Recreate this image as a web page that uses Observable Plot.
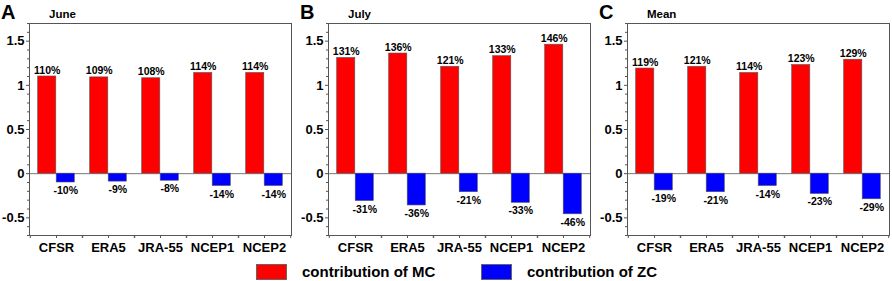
<!DOCTYPE html>
<html>
<head>
<meta charset="utf-8">
<script src="https://cdn.jsdelivr.net/npm/d3@7"></script>
<script src="https://cdn.jsdelivr.net/npm/@observablehq/plot@0.6"></script>
<style>
  body { margin: 0; background: #fff; font-family: "Liberation Sans", Arial, sans-serif; }
  #root { position: relative; width: 892px; height: 281px; overflow: hidden; }
  .panel { position: absolute; top: 0; }
  .letter { position: absolute; top: 1px; font-size: 20px; font-weight: bold; color: #000; }
  .month { position: absolute; top: 8px; font-size: 11.5px; font-weight: bold; color: #000; }
  .legend { position: absolute; top: 263px; display: flex; align-items: center; font-size: 15px; font-weight: bold; }
  .sw { display: inline-block; width: 31px; height: 16px; border: 1px solid #666; box-sizing: border-box; margin-right: 15px; }
</style>
</head>
<body>
<div id="root"></div>
<script>
const categories = ["CFSR", "ERA5", "JRA-55", "NCEP1", "NCEP2"];
const panelLetters = ["A", "B", "C"];
const panelTitles = ["June", "July", "Mean"];
const juneMC = [1.10, 1.09, 1.08, 1.14, 1.14];
const juneZC = [-0.10, -0.09, -0.08, -0.14, -0.14];
const julyMC = [1.31, 1.36, 1.21, 1.33, 1.46];
const julyZC = [-0.31, -0.36, -0.21, -0.33, -0.46];
const meanMC = [1.19, 1.21, 1.14, 1.23, 1.29];
const meanZC = [-0.19, -0.21, -0.14, -0.23, -0.29];
const yTicks = [-0.5, 0, 0.5, 1, 1.5];
const seriesNames = ["contribution of MC", "contribution of ZC"];
const colors = ["#ff0000", "#0000ff"];

const panels = [[juneMC, juneZC], [julyMC, julyZC], [meanMC, meanZC]];
const root = document.getElementById("root");
const lefts = [0, 299, 598];

const W = 294, H = 258, mL = 29, mR = 3, mT = 23, mB = 23;
const bw = (W - mL - mR) / categories.length;
const barW = 18.5;
const outerInset = bw / 2 - barW;

panels.forEach(([mc, zc], i) => {
  const mcData = categories.map((c, j) => ({cat: c, v: mc[j]}));
  const zcData = categories.map((c, j) => ({cat: c, v: zc[j]}));
  const pct = d => Math.round(d.v * 100) + "%";
  const chart = Plot.plot({
    width: W, height: H,
    marginLeft: mL, marginRight: mR, marginTop: mT, marginBottom: mB,
    style: {fontFamily: "Liberation Sans, Arial, sans-serif", background: "transparent"},
    x: {type: "band", domain: categories, padding: 0, label: null},
    y: {domain: [-0.7, 1.7], label: null},
    marks: [
      Plot.ruleY([0], {stroke: "#777", strokeWidth: 1}),
      Plot.barY(mcData, {x: "cat", y: "v", fill: colors[0], stroke: "#555", strokeWidth: 0.6,
        insetLeft: outerInset, insetRight: bw / 2}),
      Plot.barY(zcData, {x: "cat", y: "v", fill: colors[1], stroke: "#555", strokeWidth: 0.6,
        insetLeft: bw / 2, insetRight: outerInset}),
      Plot.text(mcData, {x: "cat", y: "v", text: pct, dx: -barW / 2, dy: -3, lineAnchor: "bottom",
        fontSize: 10.5, fontWeight: "bold", fill: "#000"}),
      Plot.text(zcData, {x: "cat", y: "v", text: pct, dx: barW / 2, dy: 4, lineAnchor: "top",
        fontSize: 10.5, fontWeight: "bold", fill: "#000"}),
      Plot.frame({stroke: "#555", strokeWidth: 1}),
      Plot.axisY({ticks: yTicks, tickSize: 3, tickPadding: 2, tickFormat: d => String(d),
        fontSize: 13, fontWeight: "bold", stroke: "#555", label: null}),
      Plot.axisY({ticks: d3.range(-0.7, 1.71, 0.1).map(v => Math.round(v * 10) / 10).filter(v => !yTicks.includes(v)),
        tickSize: 2, text: null, stroke: "#555", label: null}),
      Plot.axisX({tickSize: 3, tickPadding: 4, fontSize: 13, fontWeight: "bold", stroke: "#555", label: null}),
      Plot.axisX({tickSize: 3, text: null, dx: bw / 2, stroke: "#555", label: null}),
      Plot.axisX({tickSize: 3, text: null, dx: -bw / 2, stroke: "#555", label: null})
    ]
  });
  chart.classList.add("panel");
  chart.style.left = lefts[i] + "px";
  root.appendChild(chart);

  const L = document.createElement("div");
  L.className = "letter";
  L.textContent = panelLetters[i];
  L.style.left = (lefts[i] + 1) + "px";
  root.appendChild(L);

  const M = document.createElement("div");
  M.className = "month";
  M.textContent = panelTitles[i];
  M.style.left = (lefts[i] + 49) + "px";
  root.appendChild(M);
});

const legendPos = [256, 481];
seriesNames.forEach((name, i) => {
  const g = document.createElement("div");
  g.className = "legend";
  g.style.left = legendPos[i] + "px";
  const sw = document.createElement("span");
  sw.className = "sw";
  sw.style.background = colors[i];
  g.appendChild(sw);
  const t = document.createElement("span");
  t.textContent = name;
  g.appendChild(t);
  root.appendChild(g);
});
</script>
</body>
</html>
